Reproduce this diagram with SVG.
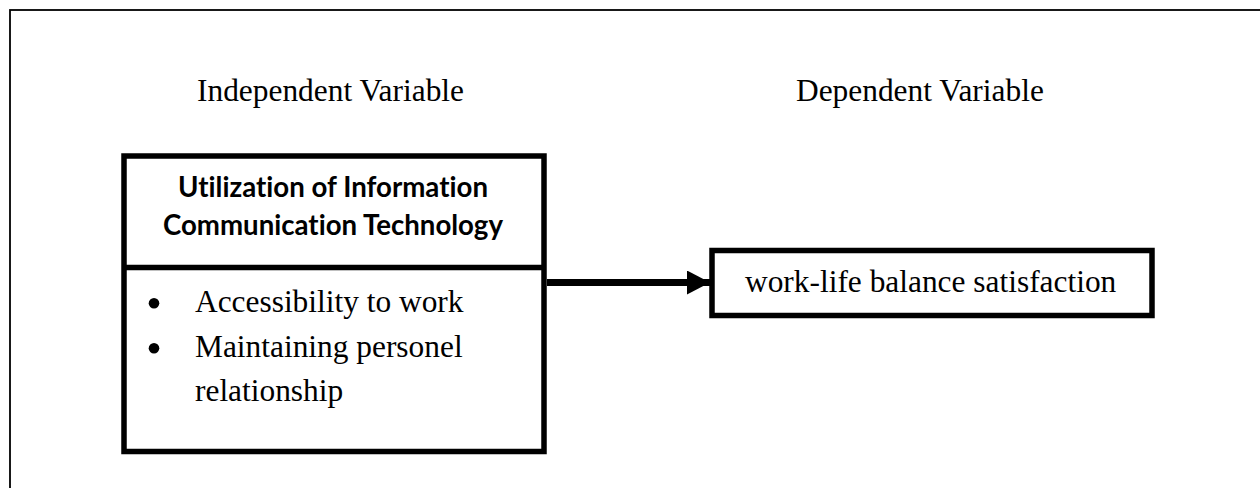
<svg xmlns="http://www.w3.org/2000/svg" width="1260" height="488" viewBox="0 0 1260 488">
  <defs>
    <style>
      .serif { font-family: "Liberation Serif", "Times New Roman", serif; font-size: 31.4px; fill: #000; }
      .title { font-family: Lato, "Liberation Sans", sans-serif; font-weight: 700; font-size: 28px; fill: #000; text-anchor: middle; font-variant-ligatures: none; font-feature-settings: "liga" 0; }
      .box { fill: #fff; stroke: #000; stroke-width: 5.5; }
    </style>
    <marker id="arrow" markerWidth="24" markerHeight="24" refX="23" refY="12" markerUnits="userSpaceOnUse" orient="auto">
      <path d="M0,0 L23,12 L0,24 Z" fill="#000"/>
    </marker>
  </defs>
  <rect width="1260" height="488" fill="#fff"/>
  <rect id="frame" x="10" y="10" width="1270" height="500" fill="none" stroke="#000" stroke-width="1.8"/>

  <g id="headings">
    <text class="serif" x="197" y="101">Independent Variable</text>
    <text class="serif" x="796" y="101">Dependent Variable</text>
  </g>

  <g id="connectors">
    <line x1="547" y1="282.5" x2="710" y2="282.5" stroke="#000" stroke-width="7" marker-end="url(#arrow)"/>
  </g>

  <g id="node-ict">
    <rect class="box" x="124" y="156" width="420" height="295.5"/>
    <line x1="124" y1="267.5" x2="544" y2="267.5" stroke="#000" stroke-width="5.5"/>
    <text class="title" x="333" y="197" textLength="310" lengthAdjust="spacingAndGlyphs">Utilization of Information</text>
    <text class="title" x="333" y="235" textLength="340" lengthAdjust="spacingAndGlyphs">Communication Technology</text>
    <circle cx="154" cy="303.3" r="5.3"/>
    <circle cx="154" cy="348.3" r="5.3"/>
    <text class="serif" x="195" y="312">Accessibility to work</text>
    <text class="serif" x="195" y="357">Maintaining personel</text>
    <text class="serif" x="195" y="401">relationship</text>
  </g>

  <g id="node-wlb">
    <rect class="box" x="712" y="250.5" width="440" height="65"/>
    <text class="serif" x="745" y="292">work-life balance satisfaction</text>
  </g>
</svg>
